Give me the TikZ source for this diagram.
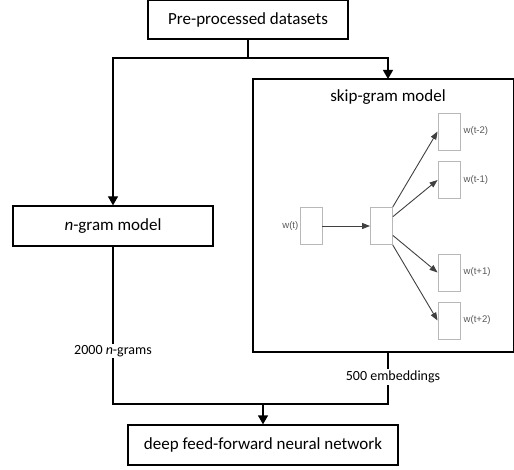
\documentclass[tikz,border=0pt]{standalone}
\usepackage{fontspec}
\setmainfont{Carlito}
\newfontfamily\smallsans{Liberation Sans}
\usetikzlibrary{arrows.meta}
\begin{document}
\begin{tikzpicture}[x=1pt,y=-1pt,
  mainbox/.style={draw=black,line width=1.3pt,inner sep=0pt,font=\fontsize{17}{20}\selectfont},
  wordbox/.style={draw=black!28,line width=0.9pt,minimum width=22pt,minimum height=37pt,inner sep=0pt},
  wlabel/.style={text=black!65,font=\smallsans\fontsize{9.6}{11}\selectfont,inner sep=1pt},
  flow/.style={line width=1.3pt},
  flowarrow/.style={line width=1.3pt,-{Triangle[width=10pt,length=9pt]}},
  skiparrow/.style={draw=black!75,line width=0.9pt,-{Triangle[width=6pt,length=8pt]}},
  edgelabel/.style={fill=white,inner sep=1.5pt,font=\fontsize{14}{16}\selectfont}]
\useasboundingbox (0,0) rectangle (514,470);
% main boxes
\node[mainbox,minimum width=200pt,minimum height=38.5pt] (pre) at (248,19.75) {Pre-processed datasets};
\node[mainbox,minimum width=200pt,minimum height=40pt] (ngram) at (113,226) {\textit{n}-gram model};
\node[mainbox,minimum width=270pt,minimum height=40pt] (dnn) at (263,445) {deep feed-forward neural network};
\draw[line width=1.3pt] (253,79) rectangle (513.35,352);
\coordinate (skiptop) at (388,79);
\coordinate (skipbot) at (388,352);
\node[font=\fontsize{17}{20}\selectfont,inner sep=0pt] (skiptitle) at (388,97) {skip-gram model};
% skip-gram internals
\node[wordbox] (wt) at (311,226) {};
\node[wordbox] (hid) at (381.5,226) {};
\node[wordbox] (o1) at (449,131.5) {};
\node[wordbox] (o2) at (449,180) {};
\node[wordbox] (o3) at (449,272.5) {};
\node[wordbox] (o4) at (449,320.5) {};
\node[wlabel,anchor=east] (lwt) at (wt.west) {w(t)};
\node[wlabel,anchor=west] (l1) at ([xshift=2pt]o1.east) {w(t-2)};
\node[wlabel,anchor=west] (l2) at ([xshift=2pt]o2.east) {w(t-1)};
\node[wlabel,anchor=west] (l3) at ([xshift=2pt]o3.east) {w(t+1)};
\node[wlabel,anchor=west] (l4) at ([xshift=2pt]o4.east) {w(t+2)};
\draw[skiparrow] (wt) -- (hid);
\draw[skiparrow] (hid) -- (o1.west);
\draw[skiparrow] (hid) -- (o2.west);
\draw[skiparrow] (hid) -- (o3.west);
\draw[skiparrow] (hid) -- (o4.west);
% flow connectors
\coordinate (split) at (248,58);
\coordinate (splitL) at (113,58);
\coordinate (splitR) at (388,58);
\coordinate (joinL) at (113,404);
\coordinate (joinR) at (388,404);
\coordinate (join) at (263,404);
\draw[flow] (pre.south) -- (split);
\draw[flowarrow] (split) -- (splitL) -- (ngram.north);
\draw[flowarrow] (split) -- (splitR) -- (skiptop);
\draw[flow] (ngram.south) -- (joinL) -- (joinR) -- (skipbot);
\draw[flowarrow] (join) -- (dnn.north);
\node[edgelabel] (lab1) at (113,351) {2000 \textit{n}-grams};
\node[edgelabel] (lab2) at (393,377) {500 embeddings};
\end{tikzpicture}
\end{document}
